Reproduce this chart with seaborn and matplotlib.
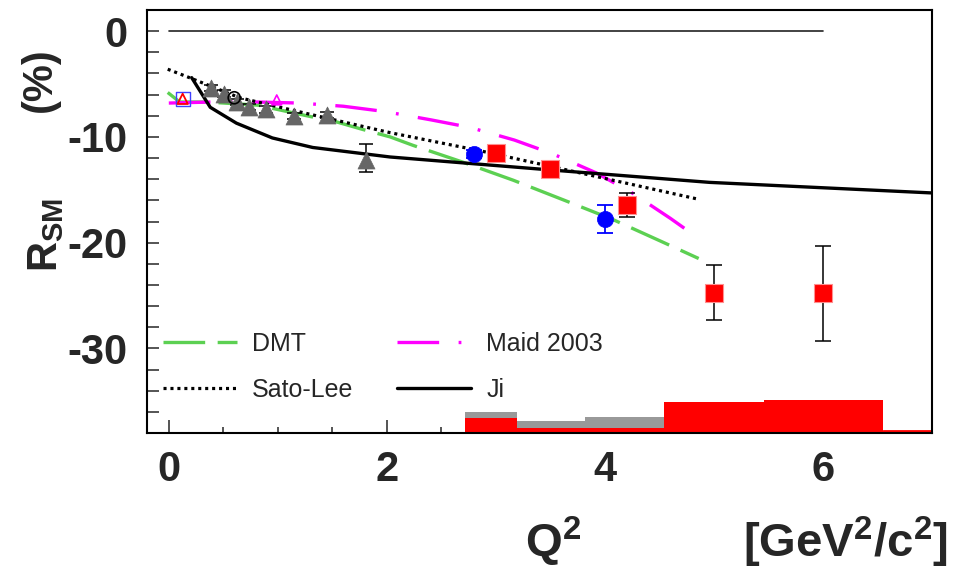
import numpy as np
import pandas as pd
import seaborn as sns
import matplotlib
matplotlib.use("Agg")
import matplotlib.pyplot as plt
from matplotlib.lines import Line2D
from matplotlib.ticker import MultipleLocator, FixedLocator

# ---------------- data ----------------
# theory curves
ji_q2 = [0.21, 0.38, 0.62, 0.95, 1.32, 2.03, 3.47, 4.96, 5.98, 7.0]
ji_r = [-4.4, -7.2, -8.7, -10.1, -11.0, -11.9, -13.1, -14.3, -14.8, -15.3]

satolee_q2 = [-0.01, 0.19, 0.65, 1.27, 2.03, 2.85, 3.77, 4.86]
satolee_r = [-3.6, -4.4, -6.3, -7.8, -9.6, -11.3, -13.4, -15.9]

dmt_q2 = [-0.01, 0.10, 0.35, 0.82, 0.95, 1.31, 1.41, 1.78, 2.03, 2.24, 2.70, 3.16, 3.63, 4.07, 4.52, 4.86]
dmt_r = [-5.8, -6.7, -6.7, -7.0, -7.3, -8.1, -8.2, -9.3, -10.0, -10.8, -12.4, -14.1, -16.0, -17.8, -19.9, -21.5]

maid_q2 = [0.0, 0.4, 0.8, 1.2, 1.6, 1.98, 2.41, 2.76, 3.17, 3.52, 3.92, 4.25, 4.60, 4.86]
maid_r = [-6.8, -6.7, -6.7, -6.8, -7.1, -7.6, -8.4, -9.1, -10.3, -11.6, -13.4, -15.3, -17.7, -19.6]

zero_q2 = [0.0, 6.0]
zero_r = [0.0, 0.0]

# data points
red_q2 = [3.0, 3.5, 4.2, 5.0, 6.0]
red_r = [-11.5, -13.0, -16.4, -24.8, -24.8]
red_err_lo = [0.5, 0.5, 1.2, 2.5, 4.5]
red_err_hi = [0.5, 0.5, 1.1, 2.7, 4.5]

blue_q2 = [2.8, 4.0]
blue_r = [-11.6, -17.8]
blue_err_lo = [0.4, 1.3]
blue_err_hi = [0.4, 1.4]

gray_q2 = [0.39, 0.51, 0.63, 0.74, 0.89, 1.15, 1.45, 1.81]
gray_r = [-5.4, -5.9, -6.7, -7.2, -7.4, -8.0, -7.9, -12.2]
gray_err_lo = [0.3, 0.3, 0.3, 0.3, 0.3, 0.3, 0.3, 1.1]
gray_err_hi = [0.3, 0.3, 0.3, 0.3, 0.3, 0.3, 0.3, 1.5]

bates_q2 = [0.127]
bates_r = [-6.4]
circ_q2 = [0.60]
circ_r = [-6.3]
mag_q2 = [0.99]
mag_r = [-6.5]

# systematic error bands (bin edges and band tops)
gray_sys_edges = [2.72, 3.19, 3.82, 4.54]
gray_sys_top = [-35.97, -36.9, -36.5]
red_sys_edges = [2.72, 3.19, 3.82, 4.54, 5.46, 6.55]
red_sys_top = [-36.6, -37.5, -37.5, -35.1, -34.9]
red_sys_tail = [6.55, 7.0]

legend_labels = ["DMT", "Sato-Lee", "Maid 2003", "Ji"]
x_ticks = [0, 2, 4, 6]
y_ticks = [0, -10, -20, -30]

# ---------------- style ----------------
sns.set_style("ticks")
plt.rcParams["font.family"] = ["Liberation Sans", "DejaVu Sans"]
plt.rcParams["mathtext.fontset"] = "custom"
plt.rcParams["mathtext.rm"] = "Liberation Sans"
plt.rcParams["mathtext.bf"] = "Liberation Sans:bold"
plt.rcParams["mathtext.it"] = "Liberation Sans:italic"
plt.rcParams["mathtext.sf"] = "Liberation Sans"
plt.rcParams["lines.scale_dashes"] = False

fig = plt.figure(figsize=(9.56, 5.83), dpi=100)
ax = fig.add_axes([147 / 956, 150 / 583, 785 / 956, 423 / 583])

GREEN = "#5CD052"
MAG = "#FF00FF"
dmt_ls = (0, (30, 9))
maid_ls = (0, (30, 14, 2, 14))
sato_ls = (0, (2.2, 2.8))

# bands
ax.stairs(gray_sys_top, gray_sys_edges, baseline=-38, fill=True, color="#999999", zorder=1)
ax.stairs(red_sys_top, red_sys_edges, baseline=-38, fill=True, color="#FF0000",
          edgecolor="#FF8080", zorder=2)
sns.lineplot(x=red_sys_tail, y=[-37.85, -37.85], ax=ax, color="#FF0000", lw=2.0, zorder=2)

# zero line
sns.lineplot(x=zero_q2, y=zero_r, ax=ax, color="#222222", lw=1.2, zorder=3)

# curves
sns.lineplot(x=dmt_q2, y=dmt_r, ax=ax, color=GREEN, lw=2.4, linestyle=dmt_ls, sort=False, zorder=4)
sns.lineplot(x=maid_q2, y=maid_r, ax=ax, color=MAG, lw=2.4, linestyle=maid_ls, sort=False, zorder=4)
sns.lineplot(x=satolee_q2, y=satolee_r, ax=ax, color="black", lw=2.3, linestyle=sato_ls, sort=False, zorder=4)
sns.lineplot(x=ji_q2, y=ji_r, ax=ax, color="black", lw=2.4, sort=False, zorder=4)

# error bars
ax.errorbar(gray_q2, gray_r, yerr=[gray_err_lo, gray_err_hi], fmt="none", ecolor="black",
            elinewidth=1.1, capsize=5, capthick=1.1, zorder=5)
ax.errorbar(blue_q2, blue_r, yerr=[blue_err_lo, blue_err_hi], fmt="none", ecolor="#0000FF",
            elinewidth=1.3, capsize=6, capthick=1.3, zorder=5)
ax.errorbar(red_q2, red_r, yerr=[red_err_lo, red_err_hi], fmt="none", ecolor="black",
            elinewidth=1.1, capsize=6, capthick=1.1, zorder=5)

# markers
sns.scatterplot(x=gray_q2, y=gray_r, ax=ax, marker="^", s=150, color="#666666", edgecolor="#666666",
                linewidth=0.5, zorder=6)
sns.scatterplot(x=blue_q2, y=blue_r, ax=ax, marker="o", s=135, color="#0000FF", edgecolor="#0000FF",
                linewidth=0.5, zorder=6)
sns.scatterplot(x=red_q2, y=red_r, ax=ax, marker="s", s=175, color="#FF0000", edgecolor="#FF9090",
                linewidth=0.8, zorder=6)
sns.scatterplot(x=bates_q2, y=bates_r, ax=ax, marker="s", s=100, facecolor="none", edgecolor="#4040FF",
                linewidth=1.0, zorder=6)
sns.scatterplot(x=bates_q2, y=bates_r, ax=ax, marker="^", s=55, facecolor="none", edgecolor="#FF0000",
                linewidth=1.3, zorder=7)
sns.scatterplot(x=circ_q2, y=circ_r, ax=ax, marker="o", s=75, facecolor="none", edgecolor="black",
                linewidth=1.2, zorder=6)
sns.scatterplot(x=mag_q2, y=mag_r, ax=ax, marker="^", s=50, facecolor="none", edgecolor=MAG,
                linewidth=1.2, zorder=6)

# axes
ax.set_xlim(-0.2, 7.0)
ax.set_ylim(-38, 2)
ax.xaxis.set_major_locator(FixedLocator(x_ticks))
ax.xaxis.set_minor_locator(MultipleLocator(0.5))
ax.yaxis.set_major_locator(FixedLocator(y_ticks))
ax.yaxis.set_minor_locator(MultipleLocator(2))
ax.set_xticklabels([str(t) for t in x_ticks])
ax.set_yticklabels([str(t) for t in y_ticks])
ax.tick_params(axis="x", which="major", direction="in", length=9.5, width=1.1, pad=12,
               labelsize=30, top=False)
ax.tick_params(axis="x", which="minor", direction="in", length=4.5, width=1.1, top=False)
ax.tick_params(axis="y", which="both", direction="in", length=8.5, width=1.1, right=False)
ax.tick_params(axis="y", which="major", pad=14, labelsize=30)
for lab in ax.get_xticklabels() + ax.get_yticklabels():
    lab.set_fontweight("bold")
for sp in ax.spines.values():
    sp.set_visible(True)
    sp.set_linewidth(1.5)
    sp.set_color("black")
ax.set_xlabel("")
ax.set_ylabel("")

# legend
handles = [
    Line2D([], [], color=GREEN, lw=2.4, linestyle=dmt_ls),
    Line2D([], [], color="black", lw=2.3, linestyle=sato_ls),
    Line2D([], [], color=MAG, lw=2.4, linestyle=maid_ls),
    Line2D([], [], color="black", lw=2.4),
]
leg = ax.legend(handles, legend_labels, ncol=2, loc="upper left",
                bbox_to_anchor=(0.0204, 0.239), frameon=False, fontsize=18,
                handlelength=2.96, handletextpad=0.6, columnspacing=1.76,
                labelspacing=0.89, borderpad=0, borderaxespad=0)

# axis titles
fig.text(525 / 956, 26 / 583, r"$\mathbf{Q^2}$", fontsize=34, ha="left", va="baseline")
fig.text(948 / 956, 26 / 583, r"$\mathbf{[GeV^2/c^2]}$", fontsize=34, ha="right", va="baseline")
fig.text(40 / 956, (583 - 80) / 583, "(%)", fontsize=30, fontweight="bold", rotation=90,
         ha="center", va="center")
fig.text(46 / 956, (583 - 235) / 583, r"$\mathbf{R_{SM}}$", fontsize=30, rotation=90,
         ha="center", va="center")

fig.savefig("out.png", dpi=100)
